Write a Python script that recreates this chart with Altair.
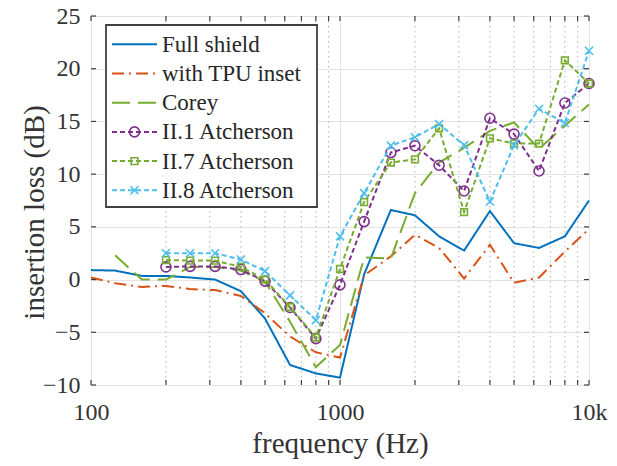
import altair as alt
import pandas as pd

FONT = "Liberation Serif"

freq = [100, 125, 160, 200, 250, 315, 400, 500, 630, 800, 1000,
        1250, 1600, 2000, 2500, 3150, 4000, 5000, 6300, 8000, 10000]

full_shield = [0.9, 0.85, 0.35, 0.35, 0.2, 0.0, -1.1, -3.7, -8.1, -8.9, -9.3,
               0.5, 6.6, 6.1, 4.1, 2.75, 6.5, 3.45, 3.0, 4.1, 7.5]
tpu_inset = [0.2, -0.35, -0.7, -0.6, -0.9, -1.0, -1.55, -3.2, -5.4, -6.9, -7.4,
             0.4, 2.2, 4.25, 3.0, 0.1, 3.3, -0.3, 0.2, 2.65, 4.8]
corey = [None, 2.3, 0.0, 0.0, 1.2, 1.2, 0.85, -0.2, -4.0, -8.3, -6.2,
         2.1, 2.0, 8.2, 11.1, 12.5, 14.1, 14.9, 12.4, 14.6, 16.6]
ii1 = [None, None, None, 1.2, 1.25, 1.25, 0.95, -0.15, -2.65, -5.6, -0.5,
       5.5, 12.05, 12.7, 10.85, 8.4, 15.3, 13.8, 10.3, 16.75, 18.6]
ii7 = [None, None, None, 1.85, 1.8, 1.8, 1.2, 0.0, -2.6, -5.5, 1.0,
       7.35, 11.1, 11.4, 14.35, 6.4, 13.4, 12.9, 12.9, 20.8, 18.6]
ii8 = [None, None, None, 2.5, 2.5, 2.5, 1.9, 0.8, -1.5, -3.85, 4.1,
       8.2, 12.7, 13.5, 14.75, 12.75, 7.4, 12.75, 16.2, 14.85, 21.7]

series_names = ["Full shield", "with TPU inset", "Corey",
                "II.1 Atcherson", "II.7 Atcherson", "II.8 Atcherson"]
series_values = [full_shield, tpu_inset, corey, ii1, ii7, ii8]
series_colors = ["#0072BD", "#D95319", "#77AC30", "#7E2F8E", "#77AC30", "#4DBEEE"]
series_dash = [[1, 0], [12, 5, 2, 5], [18, 8], [5, 3], [5, 3], [5, 3]]
series_shape = [None, None, None, "circle", "square", "M-1,-1L1,1M-1,1L1,-1"]
series_msize = [0, 0, 0, 100, 45, 64]

x_major = [100, 1000, 10000]
x_major_labels = ["100", "1000", "10k"]
x_minor = [200, 300, 400, 500, 600, 700, 800, 900,
           2000, 3000, 4000, 5000, 6000, 7000, 8000, 9000]
y_ticks = [-10, -5, 0, 5, 10, 15, 20, 25]

W, H = 498, 369
FRAME = "#404040"

xscale = alt.Scale(type="log", domain=[100, 10000], nice=False)
yscale = alt.Scale(domain=[-10, 25], nice=False, zero=False)

label_map = "{" + ",".join(f"'{v}':'{l}'" for v, l in zip(x_major, x_major_labels)) + "}"

xaxis = alt.Axis(values=x_major, labelExpr=f"{label_map}[datum.value]",
                 title="frequency (Hz)", grid=True, gridColor="#e3e3e3", gridWidth=1,
                 domain=False, ticks=False, labelFont=FONT, labelFontSize=24,
                 labelColor="#333333", labelBaseline="alphabetic", labelPadding=34,
                 titleFont=FONT, titleFontSize=29, titleFontWeight="normal",
                 titleColor="#333333", titleBaseline="alphabetic", titleY=67,
                 labelFlush=False)
yaxis = alt.Axis(values=y_ticks, title="insertion loss (dB)", grid=True,
                 gridColor="#e3e3e3", gridWidth=1, domain=False, ticks=False,
                 labelFont=FONT, labelFontSize=24, labelColor="#333333",
                 labelPadding=11, labelBaseline="middle",
                 titleFont=FONT, titleFontSize=29, titleFontWeight="normal",
                 titleColor="#333333", titleX=-48, titleY=196,
                 titleBaseline="alphabetic", titleAngle=-90)

rows = []
for name, vals in zip(series_names, series_values):
    for f, v in zip(freq, vals):
        if v is not None:
            rows.append({"freq": f, "value": v, "series": name})
df = pd.DataFrame(rows)

# base with axes and major grid
base = alt.Chart(df).mark_line(opacity=0).encode(
    x=alt.X("freq:Q", scale=xscale, axis=xaxis),
    y=alt.Y("value:Q", scale=yscale, axis=yaxis),
    detail="series:N",
)

minor_df = pd.DataFrame({"freq": x_minor})
all_x_df = pd.DataFrame({"freq": x_major + x_minor})
ytick_df = pd.DataFrame({"value": y_ticks})

minor_grid = alt.Chart(minor_df).mark_rule(color="#bdbdbd", strokeDash=[1.5, 3.5],
                                            strokeWidth=1.2).encode(
    x=alt.X("freq:Q", scale=xscale), y=alt.value(0), y2=alt.value(H))

layers = [base, minor_grid]

for name, color, dash, shape, msize in zip(series_names, series_colors, series_dash,
                                           series_shape, series_msize):
    sub = alt.Chart(df[df.series == name])
    layers.append(sub.mark_line(color=color, strokeWidth=2, strokeDash=dash).encode(
        x=alt.X("freq:Q", scale=xscale), y=alt.Y("value:Q", scale=yscale)))
    if shape:
        layers.append(sub.mark_point(color=color, shape=shape, size=msize, filled=False,
                                     strokeWidth=1.6, opacity=1).encode(
            x=alt.X("freq:Q", scale=xscale), y=alt.Y("value:Q", scale=yscale)))

# inward ticks
tk = dict(color=FRAME, strokeWidth=1.2)
layers.append(alt.Chart(all_x_df).mark_rule(**tk).encode(
    x=alt.X("freq:Q", scale=xscale), y=alt.value(H), y2=alt.value(H - 5)))
layers.append(alt.Chart(all_x_df).mark_rule(**tk).encode(
    x=alt.X("freq:Q", scale=xscale), y=alt.value(0), y2=alt.value(5)))
layers.append(alt.Chart(ytick_df).mark_rule(**tk).encode(
    y=alt.Y("value:Q", scale=yscale), x=alt.value(0), x2=alt.value(5)))
layers.append(alt.Chart(ytick_df).mark_rule(**tk).encode(
    y=alt.Y("value:Q", scale=yscale), x=alt.value(W - 5), x2=alt.value(W)))

# legend (drawn manually)
one = pd.DataFrame({"a": [0]})
LX0, LX1, LY0, LY1 = 15, 226, 9, 191
layers.append(alt.Chart(one).mark_rect(fill="white", stroke=FRAME, strokeWidth=1.8).encode(
    x=alt.value(LX0), x2=alt.value(LX1), y=alt.value(LY0), y2=alt.value(LY1)))
row_y0, row_dy = 28.3, 29.2
for i, (name, color, dash, shape, msize) in enumerate(zip(series_names, series_colors,
                                                          series_dash, series_shape,
                                                          series_msize)):
    ry = row_y0 + i * row_dy
    layers.append(alt.Chart(one).mark_rule(color=color, strokeWidth=2, strokeDash=dash).encode(
        x=alt.value(21), x2=alt.value(66), y=alt.value(ry)))
    if shape:
        layers.append(alt.Chart(one).mark_point(color=color, shape=shape, size=msize,
                                                filled=False, strokeWidth=1.6,
                                                opacity=1).encode(
            x=alt.value(43.5), y=alt.value(ry)))
    layers.append(alt.Chart(one).mark_text(text=name, font=FONT, fontSize=23,
                                           color="#262626", align="left",
                                           baseline="alphabetic", dy=7.5).encode(
        x=alt.value(71), y=alt.value(ry)))

chart = alt.layer(*layers).properties(
    width=W, height=H,
    autosize=alt.AutoSizeParams(type="none"),
    padding={"left": 91, "top": 16, "right": 28, "bottom": 81},
).configure_view(stroke=FRAME, strokeWidth=2).configure(background="white")

chart.save("out.html", embed_options={"renderer": "svg", "actions": False})
